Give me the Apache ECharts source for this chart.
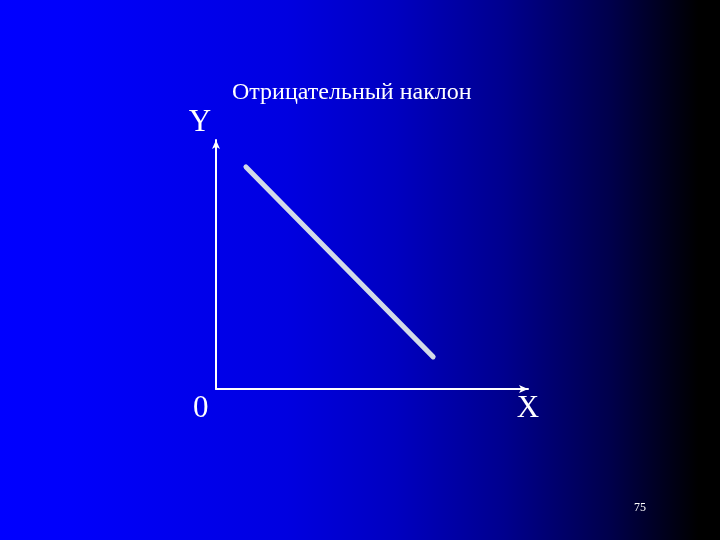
<!DOCTYPE html>
<html><head><meta charset="utf-8">
<script src="https://cdn.jsdelivr.net/npm/echarts@6/dist/echarts.min.js"></script>
<style>html,body{margin:0;padding:0;}#c{width:720px;height:540px;}</style>
</head><body><div id="c"></div>
<script>
const titleText = 'Отрицательный наклон';
const xName = 'X';
const yName = 'Y';
const originLabel = '0';
const pageNumber = '75';
const lineX = [9.6, 69.6];
const lineY = [89.2, 12.9];

const chart = echarts.init(document.getElementById('c'));
const serif = '"Liberation Serif","Times New Roman",serif';
chart.setOption({
  backgroundColor: new echarts.graphic.LinearGradient(0, 0, 1, 0, [
    {offset: 0, color: '#0000ff'},
    {offset: 0.1, color: '#0000fb'},
    {offset: 0.4, color: '#0000e0'},
    {offset: 0.55, color: '#0000c0'},
    {offset: 0.7, color: '#00008e'},
    {offset: 0.85, color: '#00004a'},
    {offset: 0.97, color: '#000000'},
    {offset: 1, color: '#000000'}
  ]),
  animation: false,
  title: {
    text: titleText, left: 227, top: 76,
    textStyle: {color: '#ffffff', fontFamily: serif, fontSize: 24, fontWeight: 'normal'}
  },
  grid: {left: 216, top: 140, width: 312, height: 249},
  xAxis: {
    type: 'value', min: 0, max: 100,
    name: xName, nameLocation: 'end', nameGap: 0,
    nameTextStyle: {color: '#ffffff', fontFamily: serif, fontSize: 31, align: 'center', verticalAlign: 'top', padding: [4, 0, 0, 0]},
    axisLine: {show: true, lineStyle: {color: '#ffffff', width: 2}, symbol: ['none', 'arrow'], symbolSize: [6, 9]},
    axisTick: {show: false}, axisLabel: {show: false}, splitLine: {show: false}
  },
  yAxis: {
    type: 'value', min: 0, max: 100,
    name: yName, nameLocation: 'end', nameGap: 2,
    nameTextStyle: {color: '#ffffff', fontFamily: serif, fontSize: 31, align: 'center', padding: [0, 32, 0, 0]},
    axisLine: {show: true, lineStyle: {color: '#ffffff', width: 2}, symbol: ['none', 'arrow'], symbolSize: [6, 9]},
    axisTick: {show: false}, axisLabel: {show: false}, splitLine: {show: false}
  },
  graphic: [
    {type: 'text', left: 193, top: 393, style: {text: originLabel, fill: '#ffffff', font: '31px ' + serif}},
    {type: 'text', left: 634, top: 502, style: {text: pageNumber, fill: '#ffffff', font: '12px ' + serif}}
  ],
  series: [{
    type: 'line', symbol: 'none',
    data: lineX.map((x, i) => [x, lineY[i]]),
    lineStyle: {color: '#d2dae8', width: 5, cap: 'round'}
  }]
});
</script></body></html>
